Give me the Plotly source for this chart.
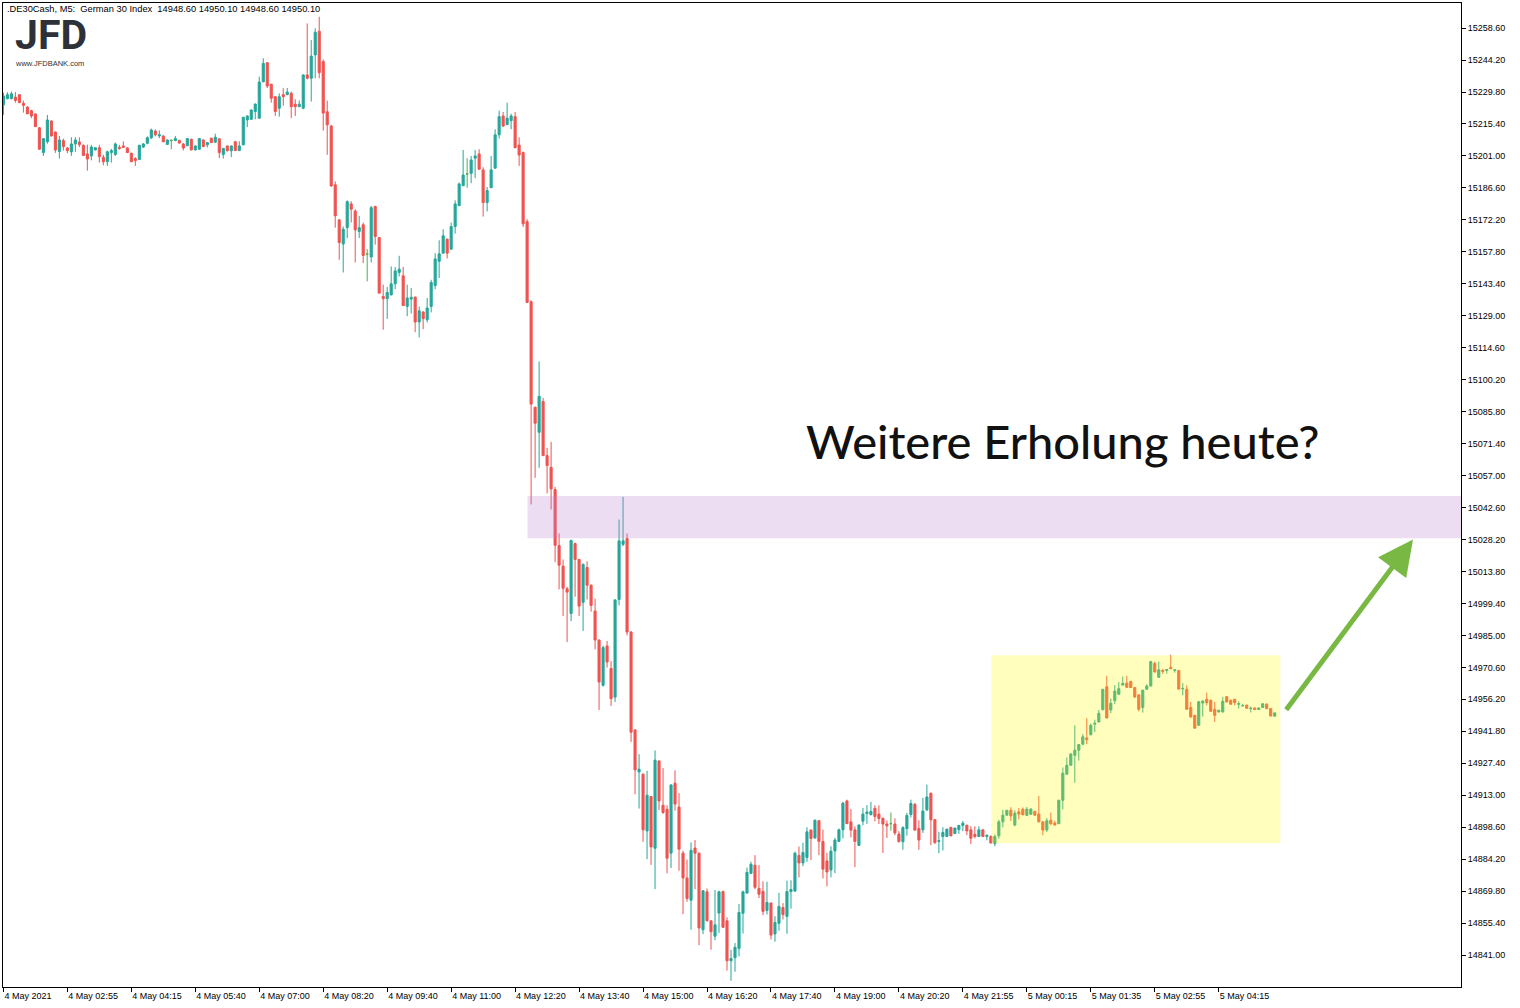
import plotly.graph_objects as go

# ---------------- data (5-minute candles, .DE30Cash) ----------------
open_ = [15224, 15226.8, 15226.8, 15227.5, 15228.6, 15224.7, 15223, 15221.4, 15219.9, 15213.7,
         15202.5, 15207.4, 15216.75, 15211.8, 15203, 15207.9, 15204.6, 15202.8, 15206.4, 15207.3,
         15205.8, 15201.9, 15201, 15203.7, 15204.7, 15200.4, 15198.4, 15202.5, 15201.7, 15204.9,
         15205.5, 15204.6, 15202.2, 15199.8, 15199.4, 15205, 15206.7, 15209.2, 15212.2, 15210,
         15210, 15206.2, 15208, 15207.9, 15208, 15206.4, 15205.6, 15208.5, 15203.7, 15204,
         15208.2, 15206, 15209, 15207.2, 15208.7, 15201.7, 15205.5, 15203.3, 15207.4, 15203.4,
         15206, 15217.2, 15217.5, 15221, 15218, 15234.4, 15243, 15233.3, 15227.7, 15222.5,
         15228.6, 15228.6, 15229.2, 15224.3, 15223.2, 15222.5, 15237.5, 15236, 15246.5, 15257.2,
         15243.5, 15220.9, 15214.5, 15188, 15172.2, 15161.3, 15168.7, 15179.4, 15176.2, 15167,
         15170, 15156.8, 15155.5, 15178.2, 15164.2, 15137.7, 15136.7, 15138.4, 15143.4, 15148.5,
         15147, 15133.2, 15136.5, 15137.4, 15126.2, 15130.7, 15127.2, 15133.2, 15142.6, 15153.5,
         15157.2, 15163.5, 15159, 15169.2, 15178.6, 15187.6, 15192.9, 15193.2, 15200, 15201.9,
         15194.7, 15180, 15186.7, 15195.5, 15210.5, 15219, 15215.1, 15216.9, 15218.7, 15205.9,
         15202.5, 15171.4, 15135.3, 15087.8, 15076.5, 15090.4, 15066, 15060.7, 15050.7, 15025.5,
         15016.2, 15006, 14994.9, 15026.4, 15019.2, 14999.9, 15015.6, 15007.6, 14996, 14982.9,
         14962.5, 14980.2, 14970.1, 14957.2, 15001.2, 15026, 15028.6, 14986.5, 14942.4, 14923.5,
         14922.5, 14896.9, 14912.4, 14889.1, 14928.4, 14908.5, 14906.7, 14886.9, 14918.4, 14907.7,
         14886.9, 14875.7, 14865.7, 14889.2, 14886.9, 14852.4, 14869.5, 14856.4, 14849.5, 14859.9,
         14869.6, 14856.4, 14838.4, 14839.8, 14844, 14859.8, 14868.9, 14877.8, 14881.5, 14871,
         14869.7, 14861.1, 14864.4, 14850.5, 14855.3, 14862.4, 14858.4, 14869.6, 14869.8, 14885.9,
         14882.5, 14884.9, 14897.3, 14893.7, 14901.5, 14892.2, 14883.4, 14879.3, 14887.9, 14892.2,
         14897.4, 14910.4, 14901, 14897.4, 14890.4, 14901.3, 14904.7, 14904.2, 14907.1, 14904.5,
         14902.6, 14900, 14900.2, 14900, 14895.5, 14892, 14897.9, 14904.3, 14908.9, 14898,
         14897.4, 14906.4, 14913.9, 14902, 14892.2, 14894.4, 14894.4, 14898.5, 14895.7, 14897.5,
         14899.4, 14899.5, 14897.4, 14895.4, 14894.4, 14897.4, 14894.4, 14894.4, 14891.2, 14894.7,
         14901, 14904, 14906.2, 14899.6, 14905.5, 14906.7, 14903.9, 14904.4, 14905.7, 14904.5,
         14901, 14897.3, 14901.7, 14900.5, 14900.2, 14910.7, 14922.5, 14926.5, 14931, 14933.3,
         14936, 14938.8, 14940.2, 14945, 14946, 14951.5, 14961.9, 14951.4, 14955.6, 14958.5,
         14962.6, 14963.5, 14964.3, 14961.5, 14958.2, 14952.5, 14960.7, 14962.2, 14972.4, 14966.1,
         14969.3, 14969.2, 14970.6, 14969.3, 14969.2, 14960.9, 14960.7, 14952.5, 14949, 14944.5,
         14954.5, 14956.2, 14955.8, 14951.7, 14950.5, 14950.5, 14957.4, 14955.8, 14956.2, 14954,
         14953.3, 14953.6, 14952, 14952.3, 14951.6, 14952.5, 14954, 14952, 14948.6]

high = [15229.5, 15229.7, 15230, 15229.8, 15228.8, 15225.9, 15223.5, 15221.8, 15220.2, 15214,
        15209, 15219.45, 15217, 15212, 15210, 15208.8, 15205, 15209.4, 15209.4, 15209.4,
        15206.2, 15206.1, 15206, 15204.9, 15206, 15201.5, 15203.4, 15204.2, 15207, 15206,
        15207.6, 15205, 15202.5, 15200.4, 15206, 15206.8, 15209.8, 15213.3, 15213, 15212.5,
        15210.3, 15208.4, 15208.5, 15210, 15208.3, 15206.8, 15209, 15208.8, 15205.7, 15209,
        15208.5, 15207.3, 15209.2, 15211, 15209, 15204.6, 15205.7, 15205.7, 15207.8, 15207.6,
        15218.6, 15219.2, 15221.9, 15224.6, 15236.7, 15245, 15243.2, 15233.5, 15228, 15229.2,
        15231.5, 15231.6, 15230, 15226.5, 15226, 15237.7, 15260.7, 15253.2, 15258.5, 15263.7,
        15244.5, 15225.9, 15215, 15189.5, 15172.5, 15169.2, 15181, 15180.6, 15177, 15174,
        15171, 15159, 15178.5, 15178.6, 15164.5, 15143, 15142, 15151.2, 15151, 15156,
        15151, 15143, 15141.5, 15137.6, 15133.2, 15131, 15137, 15145.2, 15157.2, 15163,
        15168, 15163.8, 15171, 15181, 15189, 15203.7, 15200, 15201, 15203.7, 15204,
        15195.9, 15187, 15201, 15213, 15221.4, 15220.8, 15225, 15220, 15220.8, 15209.4,
        15203, 15172.5, 15136, 15088, 15108.4, 15092, 15069.5, 15072.2, 15051.9, 15030.9,
        15019.2, 15006.9, 15028.2, 15026.8, 15019.5, 15017.4, 15018.4, 15008, 15001.6, 14983.2,
        14980.4, 14982.5, 14973.4, 15001.2, 15037.2, 15047.4, 15030.9, 14987, 14942.7, 14931.5,
        14922.8, 14924, 14912.7, 14933.2, 14928.8, 14925.2, 14908.5, 14918, 14924.2, 14913.9,
        14888, 14884, 14891.7, 14892.8, 14887.2, 14870.3, 14871, 14856.7, 14870.3, 14870,
        14870, 14858, 14843.4, 14846.4, 14864, 14870, 14880.4, 14883, 14886, 14881.5,
        14874.2, 14874, 14864.8, 14858.5, 14869, 14864.4, 14874.5, 14874.7, 14887.6, 14889.9,
        14891.6, 14898.6, 14897.6, 14902, 14901.8, 14897.5, 14887.1, 14890, 14893.8, 14898,
        14910, 14911, 14906.8, 14899, 14899.8, 14907.3, 14908.5, 14910, 14908.5, 14908.4,
        14903, 14901.6, 14905.2, 14902.6, 14896.8, 14899, 14905, 14911, 14909.5, 14901.7,
        14911.8, 14917.8, 14914.2, 14902.3, 14896.5, 14898.6, 14898, 14898.8, 14898.4, 14899.6,
        14901.4, 14899.7, 14899, 14899, 14899, 14897.6, 14895.2, 14895, 14895.3, 14901.9,
        14906.4, 14906.4, 14907.6, 14906.1, 14907.2, 14907.5, 14907.7, 14907, 14906, 14912.7,
        14901.3, 14902.7, 14905.2, 14901.5, 14910.9, 14925.5, 14930, 14932, 14944.5, 14935.9,
        14940.5, 14947.7, 14945.3, 14947, 14951.4, 14960.9, 14966.8, 14956.6, 14962.6, 14964,
        14966.4, 14966.8, 14964.5, 14961.7, 14958.6, 14960.5, 14963, 14973.5, 14973.2, 14973.2,
        14969.8, 14969.8, 14976.3, 14969.7, 14969.4, 14963.5, 14962.5, 14955, 14949.2, 14955.5,
        14955.8, 14959.2, 14956, 14955, 14951.5, 14957.3, 14957.6, 14956, 14956.4, 14955.3,
        14954.2, 14953.8, 14953, 14952.5, 14952.5, 14954.4, 14954.5, 14952.2, 14950.1]

low = [15219.5, 15226.5, 15226.5, 15225, 15224.8, 15220.5, 15219.8, 15218, 15214, 15203.8,
       15201, 15206.5, 15209.8, 15202.4, 15199.8, 15203.4, 15202.2, 15201, 15202.8, 15205,
       15201, 15194.4, 15199, 15203.5, 15198, 15196.8, 15196.5, 15198, 15201, 15203.8,
       15204.6, 15202.3, 15198.2, 15196.5, 15199.2, 15204.6, 15206.3, 15208.6, 15209.8, 15209,
       15207.2, 15206, 15204, 15207.7, 15206.6, 15203.5, 15205.4, 15203.5, 15203.5, 15203.8,
       15205, 15204.8, 15206.8, 15207, 15200, 15199.8, 15203.1, 15200.5, 15203.2, 15203.2,
       15205.8, 15214, 15217.3, 15217.5, 15217.8, 15234.2, 15231.6, 15225, 15219, 15218.7,
       15223.6, 15228.4, 15218, 15219, 15223, 15222, 15235.5, 15225.5, 15236, 15236,
       15212.4, 15201.5, 15187, 15168.7, 15154.2, 15148.5, 15164, 15171, 15153, 15164,
       15152.7, 15144.5, 15153, 15161, 15139, 15122.7, 15127.6, 15138.2, 15141, 15146.7,
       15133.4, 15128.8, 15130, 15121.6, 15119.2, 15123, 15126, 15130.5, 15141, 15146,
       15157, 15154.8, 15158.8, 15166, 15178.4, 15187.4, 15186.7, 15188.7, 15191, 15194.8,
       15173.7, 15176, 15186.5, 15195.3, 15208.8, 15214, 15214.9, 15213, 15204.5, 15196.5,
       15169, 15134.8, 15044, 15056, 15060.5, 15065.8, 15049, 15041.7, 15018, 15005.7,
       14993.7, 14982, 14991.4, 15002.4, 14993.7, 14987, 15001.2, 14995.7, 14978.7, 14951.4,
       14961.9, 14970.5, 14953.2, 14955, 14998.5, 15025.2, 14985, 14937, 14913.4, 14907,
       14892, 14884.2, 14881.6, 14870.7, 14906.3, 14904.6, 14877.8, 14880.2, 14906, 14879,
       14859.4, 14865, 14852.4, 14870.7, 14845.5, 14850.4, 14856.2, 14843.4, 14847.7, 14851,
       14853.3, 14834, 14829.4, 14833.5, 14840.4, 14850.7, 14868.7, 14877.5, 14870.6, 14866.7,
       14859, 14859.3, 14848, 14847, 14852, 14857, 14850.6, 14861.9, 14869.5, 14876,
       14881, 14883, 14883.8, 14893.5, 14886, 14875.5, 14871.9, 14876, 14877.9, 14892,
       14893.5, 14900, 14894, 14880.6, 14890.2, 14899.4, 14900.1, 14904, 14901.2, 14900,
       14887, 14893.7, 14897, 14895, 14891.6, 14888.4, 14894.8, 14903, 14897, 14888.4,
       14896, 14905.8, 14890.5, 14891, 14886.9, 14888.1, 14894.2, 14894.5, 14895.5, 14895.6,
       14896.8, 14895, 14891, 14893.5, 14894.2, 14894.2, 14892.7, 14891.3, 14890, 14893.4,
       14898.6, 14903.8, 14901.4, 14899, 14902.2, 14903.9, 14903.7, 14904.2, 14903.8, 14900.8,
       14895, 14896.5, 14899.5, 14899.3, 14900, 14906.6, 14922.2, 14926.3, 14918.6, 14928.6,
       14935.5, 14936, 14940, 14941.5, 14945.8, 14951.3, 14947.6, 14950, 14954, 14958.3,
       14962.4, 14961.4, 14961.3, 14956.8, 14950.8, 14950.2, 14960.5, 14962, 14968.3, 14965.9,
       14967.6, 14967.8, 14969.8, 14968.2, 14960.6, 14958, 14951.5, 14948, 14943, 14944.3,
       14948.4, 14953.5, 14950.6, 14946, 14950.3, 14950.3, 14954.8, 14953.8, 14953.5, 14952,
       14952.8, 14952, 14950.3, 14951.4, 14951.4, 14952.3, 14951.8, 14948.5, 14948.6]

close = [15228, 15228.6, 15229, 15226, 15225, 15223.8, 15220, 15219, 15214.2, 15204,
         15208.8, 15217.2, 15210, 15203.7, 15208.2, 15205.2, 15203.4, 15206.4, 15208.2, 15206.1,
         15201.2, 15199.6, 15205, 15204.7, 15200.7, 15198.4, 15202.9, 15203.4, 15206.4, 15204.3,
         15204.9, 15202.5, 15198.4, 15198.9, 15205.8, 15206.4, 15209.2, 15212.7, 15210.5, 15210.5,
         15207.4, 15208.2, 15208, 15208.8, 15206.8, 15204.6, 15208.8, 15203.7, 15205.5, 15208.8,
         15205.2, 15207, 15207, 15209.4, 15202.5, 15204.4, 15203.3, 15205.5, 15203.4, 15205.5,
         15218.4, 15219, 15221.7, 15224.4, 15234.3, 15242.7, 15232.5, 15227, 15221, 15227.7,
         15227.7, 15229.8, 15223.2, 15223.2, 15224.3, 15237.5, 15236, 15246, 15256.7, 15238.5,
         15220.3, 15215, 15187.5, 15174, 15162, 15168, 15180.4, 15177, 15167.7, 15168.7,
         15156.2, 15156.8, 15177.7, 15164.7, 15139.2, 15136.7, 15139.5, 15143.4, 15149.2, 15150,
         15133.6, 15137, 15137.3, 15126.2, 15131.2, 15127.7, 15132.5, 15144, 15154.6, 15156.9,
         15165, 15157.2, 15169.2, 15179.4, 15188.4, 15192.4, 15192.9, 15199.2, 15201, 15195,
         15180, 15185.4, 15194.7, 15210.5, 15218.7, 15214.5, 15218, 15219, 15204.7, 15201.4,
         15170.4, 15135, 15089.2, 15080.6, 15092.7, 15066, 15061.5, 15051, 15025.6, 15016.6,
         15006.2, 15004.5, 15027.7, 15019.2, 14998.2, 15017, 15007.6, 14998.5, 14982.9, 14964,
         14979.5, 14973, 14956.5, 15001, 15027.6, 15027.6, 14986.5, 14941.4, 14924.4, 14924.7,
         14897.4, 14913, 14889.7, 14928.8, 14910.4, 14905.2, 14884.6, 14917.6, 14909, 14888.7,
         14875.7, 14866.5, 14888.2, 14886.9, 14853.2, 14870, 14856.4, 14851.5, 14854.6, 14869.5,
         14853.5, 14838.4, 14839.4, 14844.5, 14860.2, 14869.5, 14878.2, 14881.9, 14871.5, 14868.4,
         14860.7, 14864.7, 14850, 14855.7, 14862.9, 14859.2, 14869.6, 14870.5, 14886.9, 14882.5,
         14887.2, 14896.5, 14893.5, 14901.75, 14892.2, 14879.7, 14878.4, 14887.8, 14892.8, 14897.4,
         14909.4, 14900.2, 14897.25, 14892.2, 14899.6, 14904.5, 14905.4, 14905.7, 14903.4, 14902.5,
         14900, 14899.2, 14900.2, 14896, 14892.2, 14898.4, 14903.9, 14909.3, 14897.3, 14892.8,
         14905.9, 14912.2, 14901.9, 14891.7, 14892.5, 14896.2, 14897.7, 14894.7, 14898.2, 14899.4,
         14900.4, 14896.9, 14893.6, 14894.4, 14897.4, 14894.4, 14895, 14891.5, 14894.4, 14901,
         14904, 14906.2, 14903.7, 14904.9, 14904.5, 14904.2, 14906.7, 14906.8, 14904, 14901,
         14897.3, 14901.5, 14900.2, 14899.6, 14910.75, 14922.9, 14926.5, 14931.5, 14933.3, 14935.8,
         14939.3, 14938, 14944.5, 14945.4, 14949.9, 14960.7, 14947.8, 14954.4, 14959.9, 14961,
         14963.4, 14961.6, 14961.5, 14957.3, 14951.7, 14960.3, 14962.2, 14973.2, 14968.5, 14969.5,
         14968.8, 14969.6, 14970, 14969.5, 14960.8, 14961.1, 14951.7, 14948.2, 14943.2, 14955.1,
         14955.4, 14954.7, 14950.8, 14949, 14951.3, 14955.3, 14955, 14954, 14954.7, 14954.2,
         14953.4, 14952.2, 14952.2, 14951.6, 14952.3, 14954.2, 14952, 14948.7, 14950.1]

time_labels = ["4 May 2021", "4 May 02:55", "4 May 04:15", "4 May 05:40", "4 May 07:00",
               "4 May 08:20", "4 May 09:40", "4 May 11:00", "4 May 12:20", "4 May 13:40",
               "4 May 15:00", "4 May 16:20", "4 May 17:40", "4 May 19:00", "4 May 20:20",
               "4 May 21:55", "5 May 00:15", "5 May 01:35", "5 May 02:55", "5 May 04:15"]
bars_per_label = 16

price_tick_first = 14841.0
price_tick_step = 14.4
price_tick_count = 30

resistance_zone = [15028.8, 15047.8]      # lavender band
resistance_start_bar = 131.1
range_box_bars = [247.1, 319.4]           # yellow consolidation box
range_box_prices = [14891.4, 14976.1]
arrow_from = [320.6, 14950.8]
arrow_to = [352.6, 15028.2]

header = ".DE30Cash, M5:  German 30 Index  14948.60 14950.10 14948.60 14950.10"
headline = "Weitere Erholung heute?"

# ---------------- figure ----------------
UP = "#26A69A"
DOWN = "#EF5350"
DOJI = "#4CAF50"
FONT = "Liberation Sans, Arial, sans-serif"

n = len(close)
xs = list(range(n))
is_doji = [open_[i] == close[i] for i in range(n)]


def pick(vals, keep):
    return [v if k else None for v, k in zip(vals, keep)]


normal = [not d for d in is_doji]

fig = go.Figure()
fig.add_trace(go.Candlestick(
    x=xs, open=pick(open_, normal), high=pick(high, normal),
    low=pick(low, normal), close=pick(close, normal),
    increasing=dict(line=dict(color=UP, width=1), fillcolor=UP),
    decreasing=dict(line=dict(color=DOWN, width=1), fillcolor=DOWN),
    whiskerwidth=0, showlegend=False, hoverinfo="skip"))
fig.add_trace(go.Candlestick(
    x=xs, open=pick(open_, is_doji), high=pick(high, is_doji),
    low=pick(low, is_doji), close=pick(close, is_doji),
    increasing=dict(line=dict(color=DOJI, width=1), fillcolor=DOJI),
    decreasing=dict(line=dict(color=DOJI, width=1), fillcolor=DOJI),
    whiskerwidth=0, showlegend=False, hoverinfo="skip"))

x_range = [-0.1, 364.6]
y_range = [14826.6, 15269.9]

fig.add_shape(type="rect", xref="x", yref="y",
              x0=resistance_start_bar, x1=x_range[1],
              y0=resistance_zone[0], y1=resistance_zone[1],
              fillcolor="rgba(190,130,210,0.27)", line=dict(width=0), layer="above")
fig.add_shape(type="rect", xref="x", yref="y",
              x0=range_box_bars[0], x1=range_box_bars[1],
              y0=range_box_prices[0], y1=range_box_prices[1],
              fillcolor="rgba(255,250,0,0.26)", line=dict(width=0), layer="above")

fig.add_annotation(x=arrow_to[0], y=arrow_to[1], ax=arrow_from[0], ay=arrow_from[1],
                   xref="x", yref="y", axref="x", ayref="y", text="",
                   showarrow=True, arrowhead=2, arrowsize=1.4, arrowwidth=5,
                   arrowcolor="#78B843")

fig.add_annotation(x=0.727, y=0.555, xref="paper", yref="paper", text=headline,
                   showarrow=False, xanchor="center", yanchor="middle",
                   font=dict(family="Lato, sans-serif", size=47, color="#111111", weight=500))

fig.add_annotation(x=0, y=1, xref="paper", yref="paper", text=header,
                   showarrow=False, xanchor="left", yanchor="top", xshift=2, yshift=1,
                   font=dict(family=FONT, size=9.3, color="#000000"))

fig.add_annotation(x=0.0068, y=0.994, xref="paper", yref="paper", text="JFD",
                   showarrow=False, xanchor="left", yanchor="top",
                   font=dict(family="Roboto, sans-serif", size=41, color="#2E3138", weight=700))
fig.add_annotation(x=0.0068, y=0.9455, xref="paper", yref="paper", text="www.JFDBANK.com",
                   showarrow=False, xanchor="left", yanchor="top",
                   font=dict(family=FONT, size=7.5, color="#2E3138"))

price_ticks = [round(price_tick_first + price_tick_step * k, 2) for k in range(price_tick_count)]
time_ticks = [bars_per_label * k for k in range(len(time_labels))]

fig.update_layout(
    width=1520, height=1008,
    margin=dict(l=3, r=59, t=3, b=21),
    paper_bgcolor="white", plot_bgcolor="white",
    boxmode="overlay", boxgap=0.25, boxgroupgap=0.3,
    font=dict(family=FONT, size=9, color="black"),
    xaxis=dict(range=x_range, rangeslider=dict(visible=False), showgrid=False,
               zeroline=False, showline=True, linecolor="black", linewidth=1, mirror=True,
               ticks="outside", ticklen=4, tickcolor="black", tickwidth=1,
               tickvals=time_ticks, ticktext=time_labels, ticklabelposition="outside right",
               tickfont=dict(family=FONT, size=9, color="black"), fixedrange=True),
    yaxis=dict(range=y_range, side="right", showgrid=False, zeroline=False,
               showline=True, linecolor="black", linewidth=1, mirror=True,
               ticks="outside", ticklen=4, tickcolor="black", tickwidth=1,
               tickvals=price_ticks, tickformat=".2f",
               tickfont=dict(family=FONT, size=9, color="black"), fixedrange=True),
)

fig.write_html("out.html", config={"displayModeBar": False},
               post_script="document.body.style.margin='0';")
